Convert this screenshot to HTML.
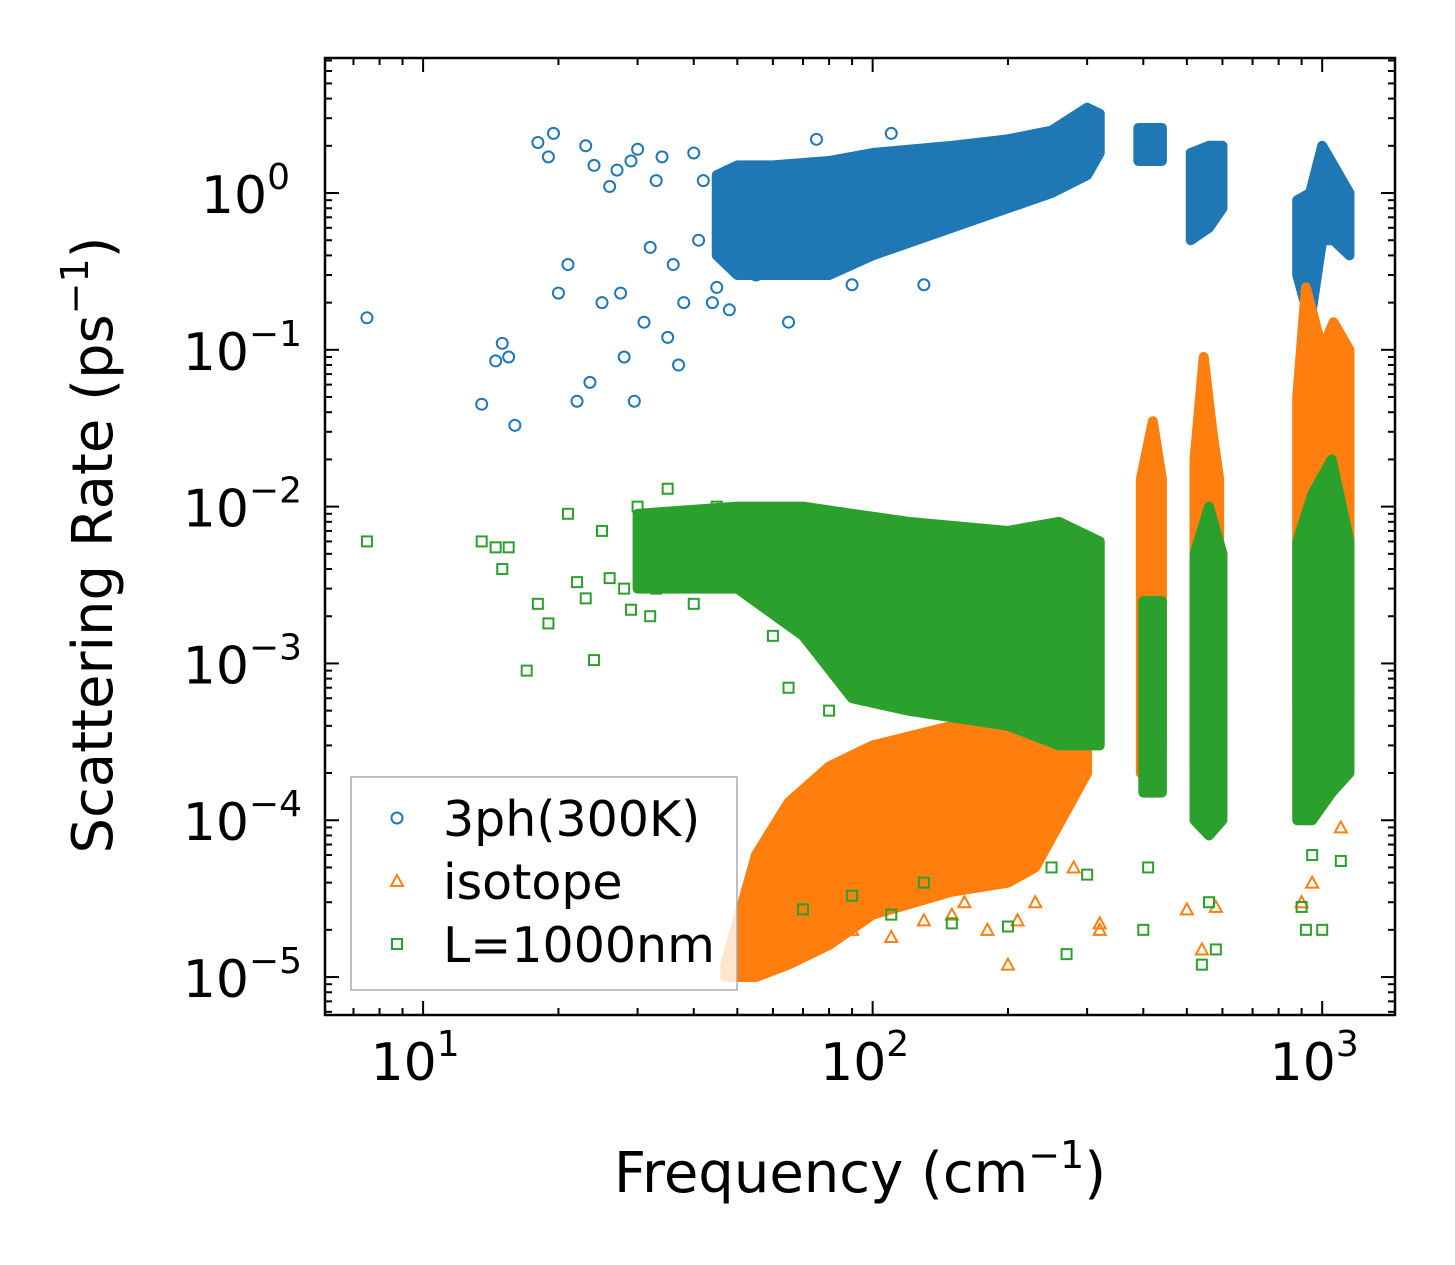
<!DOCTYPE html>
<html><head><meta charset="utf-8"><style>
html,body{margin:0;padding:0;background:#fff}
svg{display:block;font-family:"DejaVu Sans","Liberation Sans",sans-serif}
</style></head><body>
<svg id="chart" width="1455" height="1265" viewBox="0 0 1455 1265" xmlns="http://www.w3.org/2000/svg">
<rect width="1455" height="1265" fill="#fff"/>
<g id="bands"></g><g id="pts"></g><g id="axes"></g>
<text x="860" y="1192" font-size="56" text-anchor="middle">Frequency (cm<tspan dy="-24" font-size="38">−1</tspan><tspan dy="24">)</tspan></text>
<text transform="translate(112,545) rotate(-90)" font-size="56" text-anchor="middle">Scattering Rate (ps<tspan dy="-24" font-size="38">−1</tspan><tspan dy="24">)</tspan></text>
<g>
<rect x="351" y="777" width="386" height="213" fill="#fff" fill-opacity="0.8" stroke="#aaa" stroke-width="1.5"/>
<circle cx="397" cy="818" r="5.5" fill="none" stroke="#1f77b4" stroke-width="2"/>
<text x="443" y="836" font-size="49">3ph(300K)</text>
<polygon points="397,875 403,886 391,886" fill="none" stroke="#ff7f0e" stroke-width="2"/>
<text x="443" y="899" font-size="49">isotope</text>
<rect x="392" y="939" width="10" height="10" fill="none" stroke="#2ca02c" stroke-width="2"/>
<text x="443" y="962" font-size="49">L=1000nm</text>
</g>
</svg>
<script>
// Dense envelope data: [freq, low, high]
const blueBand=[[45,0.4,1.3],[50,0.3,1.5],[60,0.3,1.5],[80,0.3,1.6],[100,0.4,1.8],[150,0.6,2.0],[200,0.8,2.2],[250,1.0,2.5],[300,1.3,3.5],[320,1.8,3.2]];
const blueClusters=[[[390,1.6,2.6],[440,1.6,2.6]],[[510,0.5,1.8],[560,0.6,2.0],[600,0.8,2.0]],[[880,0.3,0.9],[940,0.15,1.0],[1000,0.5,2.0],[1060,0.5,1.5],[1150,0.4,1.0]]];
const orangeBand=[[47,1e-5,1.2e-5],[55,1e-5,6e-5],[65,1.2e-5,1.3e-4],[80,1.6e-5,2.2e-4],[100,2.5e-5,3e-4],[150,3.5e-5,4e-4],[200,4e-5,6e-4],[230,5e-5,9e-4],[300,2e-4,3e-3]];
const orangeClusters=[[[395,2e-4,1.5e-2],[420,3e-4,3.5e-2],[440,3e-4,1.5e-2]],[[520,2e-4,2e-2],[545,3e-4,9e-2],[570,3e-4,3e-2],[590,3e-4,1.5e-2]],[[880,5e-4,0.05],[920,6e-4,0.25],[1000,6e-4,0.1],[1060,6e-4,0.15],[1150,6e-4,0.1]]];
const greenBand=[[30,3e-3,9e-3],[50,3e-3,1e-2],[70,1.5e-3,1e-2],[90,6e-4,9e-3],[120,5e-4,8e-3],[200,4e-4,7e-3],[260,3e-4,8e-3],[320,3e-4,6e-3]];
const greenClusters=[[[400,1.5e-4,2.5e-3],[440,1.5e-4,2.5e-3]],[[520,1e-4,5e-3],[560,8e-5,1e-2],[600,1e-4,5e-3]],[[880,1e-4,6e-3],[950,1e-4,1.2e-2],[1050,1.5e-4,2e-2],[1150,2e-4,6e-3]]];
// Sparse points
const blueX=[7.5,13.5,14.5,15,15.5,16,18,19,19.5,20,21,22,23,23.5,24,25,26,27,27.5,28,29,29.5,30,31,32,33,34,35,36,37,38,40,41,42,44,45,46,48,55,65,75,90,110,130];
const blueY=[0.16,0.045,0.085,0.11,0.09,0.033,2.1,1.7,2.4,0.23,0.35,0.047,2.0,0.062,1.5,0.2,1.1,1.4,0.23,0.09,1.6,0.047,1.9,0.15,0.45,1.2,1.7,0.12,0.35,0.08,0.2,1.8,0.5,1.2,0.2,0.25,1.3,0.18,0.3,0.15,2.2,0.26,2.4,0.26];
const orangeX=[55,60,70,80,90,110,130,150,160,180,200,210,230,250,280,320,320,500,540,580,900,950,1100];
const orangeY=[4e-5,2e-5,3e-5,2e-5,2e-5,1.8e-5,2.3e-5,2.5e-5,3e-5,2e-5,1.2e-5,2.3e-5,3e-5,1.2e-4,5e-5,2e-5,2.2e-5,2.7e-5,1.5e-5,2.8e-5,3e-5,4e-5,9e-5];
const greenX=[7.5,13.5,14.5,15,15.5,17,18,19,21,22,23,24,25,26,28,29,30,32,33,35,37,40,45,55,60,65,70,80,90,110,130,150,200,250,270,300,400,410,540,560,580,900,920,950,1000,1100];
const greenY=[6e-3,6e-3,5.5e-3,4e-3,5.5e-3,9e-4,2.4e-3,1.8e-3,9e-3,3.3e-3,2.6e-3,1.05e-3,7e-3,3.5e-3,3e-3,2.2e-3,1e-2,2e-3,3e-3,1.3e-2,6e-3,2.4e-3,1e-2,5e-3,1.5e-3,7e-4,2.7e-5,5e-4,3.3e-5,2.5e-5,4e-5,2.2e-5,2.1e-5,5e-5,1.4e-5,4.5e-5,2e-5,5e-5,1.2e-5,3e-5,1.5e-5,2.8e-5,2e-5,6e-5,2e-5,5.5e-5];
const xTicks=[1,2,3],yTicks=[0,-1,-2,-3,-4,-5];

const L=325,R=1395,T=58,B=1015;
const xmin=Math.log10(6.05),xmax=Math.log10(1452),ymin=-5.242,ymax=0.861;
const X=v=>L+(Math.log10(v)-xmin)/(xmax-xmin)*(R-L);
const Y=v=>B-(Math.log10(v)-ymin)/(ymax-ymin)*(B-T);
const NS='http://www.w3.org/2000/svg';
function mk(tag,attrs,parent){const e=document.createElementNS(NS,tag);for(const k in attrs)e.setAttribute(k,attrs[k]);parent.appendChild(e);return e;}
const bands=document.getElementById('bands'),pts=document.getElementById('pts'),axes=document.getElementById('axes');
function band(arr,color,name){
  const up=arr.map(d=>X(d[0])+','+Y(d[2])),lo=arr.slice().reverse().map(d=>X(d[0])+','+Y(d[1]));
  const p=mk('polygon',{points:up.concat(lo).join(' '),fill:color,stroke:color,'stroke-width':10,'stroke-linejoin':'round'},bands);
  
  
}
function series(bandArr,clusters,xs,ys,color,shape,name){
  band(bandArr,color,name+'-dense');
  clusters.forEach(c=>band(c,color,name+'-cluster'));
  xs.forEach((x,i)=>{
    const cx=X(x),cy=Y(ys[i]);let e;
    if(shape==='c')e=mk('circle',{cx:cx,cy:cy,r:5.5,fill:'none',stroke:color,'stroke-width':2},pts);
    else if(shape==='t')e=mk('polygon',{points:`${cx},${cy-6} ${cx+6},${cy+5} ${cx-6},${cy+5}`,fill:'none',stroke:color,'stroke-width':2},pts);
    else e=mk('rect',{x:cx-5,y:cy-5,width:10,height:10,fill:'none',stroke:color,'stroke-width':2},pts);
    
    
  });
}
series(blueBand,blueClusters,blueX,blueY,'#1f77b4','c','3ph');
series(orangeBand,orangeClusters,orangeX,orangeY,'#ff7f0e','t','isotope');
series(greenBand,greenClusters,greenX,greenY,'#2ca02c','s','boundary');

const fr=mk('rect',{x:L,y:T,width:R-L,height:B-T,fill:'none',stroke:'#000','stroke-width':2.5},axes);


for(let d=0;d<=3;d++)for(let m=1;m<10;m++){
  const v=m*Math.pow(10,d);if(v<6.05||v>1452)continue;
  const x=X(v),len=m===1?14:7;
  mk('line',{x1:x,y1:B,x2:x,y2:B-len,stroke:'#000','stroke-width':2},axes);
  mk('line',{x1:x,y1:T,x2:x,y2:T+len,stroke:'#000','stroke-width':2},axes);
}
xTicks.forEach(p=>{
  const t=mk('text',{x:X(Math.pow(10,p))-8,y:1080,'font-size':52,'text-anchor':'middle'},axes);
  
  
  t.innerHTML='10<tspan dy="-24" font-size="36">'+p+'</tspan>';
});
for(let d=-6;d<=0;d++)for(let m=1;m<10;m++){
  const v=m*Math.pow(10,d);const lv=Math.log10(v);if(lv<ymin||lv>ymax)continue;
  const y=Y(v),len=m===1?14:7;
  mk('line',{x1:L,y1:y,x2:L+len,y2:y,stroke:'#000','stroke-width':2},axes);
  mk('line',{x1:R,y1:y,x2:R-len,y2:y,stroke:'#000','stroke-width':2},axes);
}
yTicks.forEach(p=>{
  const t=mk('text',{x:p===0?290:302,y:Y(Math.pow(10,p))+20,'font-size':52,'text-anchor':'end'},axes);
  
  
  t.innerHTML='10<tspan dy="-24" font-size="36">'+(p===0?'0':'−'+(-p))+'</tspan>';
});
</script>
</body></html>
